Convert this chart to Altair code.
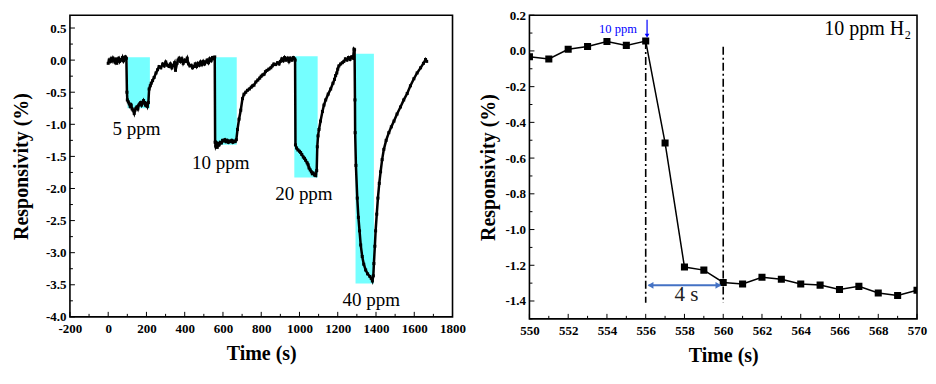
import altair as alt
import pandas as pd

# ---------------- Left panel: dynamic response ----------------
t_left = [0, 5, 10, 15, 20, 25, 30, 35, 40, 45, 50, 55, 60, 65, 70, 75, 80, 85, 90, 95,
          98, 100, 105, 110, 115, 120, 125, 130, 136, 140, 145, 150, 155, 160, 165, 170, 175, 180,
          185, 190, 195, 200, 205, 210, 214, 220, 225, 232, 240, 250, 258, 266, 275, 285, 293,
          301, 310, 318, 325, 333, 340, 347, 352, 360, 365, 371, 378, 385, 392, 400, 406, 413,
          420, 427, 434, 441, 448, 455, 462, 469, 476, 483, 490, 497, 504, 510, 517, 524, 531,
          538, 545, 552, 557,
          559, 562, 566, 570, 575, 580, 586, 592, 598, 604, 610, 616, 622, 628, 634, 640, 646,
          652, 658, 664, 670, 676, 684, 693, 702, 710, 719, 728, 738, 748, 755, 762, 772, 782,
          792, 800, 808, 815, 822, 830, 840, 850, 858, 866, 875, 885, 893, 900, 908, 915, 922,
          930, 938, 945, 952, 960, 968, 975,
          977, 979, 985, 992, 1000, 1006, 1012, 1020, 1026, 1032, 1040, 1045, 1050, 1056, 1062,
          1067, 1072, 1078, 1085, 1090, 1093, 1097, 1102, 1110, 1120, 1128, 1137, 1150, 1163,
          1175, 1183, 1189, 1195, 1200, 1206, 1215, 1224, 1232, 1240, 1248, 1256, 1264, 1272,
          1280, 1285,
          1288, 1290, 1291, 1295, 1302, 1308, 1314, 1320, 1328, 1336, 1346, 1356, 1368, 1375,
          1381, 1386, 1389, 1394, 1398, 1404, 1410, 1417, 1424, 1432, 1441, 1453, 1467, 1480,
          1494, 1510, 1528, 1545, 1563, 1580, 1598, 1615, 1633, 1648, 1659, 1665]
r_left = [-0.05, 0.00, -0.02, 0.02, -0.01, 0.03, 0.00, -0.03, 0.02, -0.05, 0.01, 0.03, -0.02,
          0.01, 0.00, 0.04, -0.01, 0.02, 0.05, 0.03,
          -0.50, -0.62, -0.65, -0.68, -0.72, -0.70, -0.76, -0.78, -0.83, -0.78, -0.75, -0.73,
          -0.76, -0.70, -0.68, -0.66, -0.70, -0.67, -0.63, -0.66, -0.70, -0.68, -0.72, -0.66,
          -0.45, -0.40, -0.36, -0.32, -0.27, -0.20, -0.15, -0.10, -0.12, -0.06, -0.09, -0.03,
          -0.08, -0.10, -0.06, -0.12, -0.08, -0.04, -0.16, -0.05, 0.00, 0.03, -0.02, 0.02,
          -0.05, 0.00, -0.02, 0.03, -0.06, -0.09, -0.08, -0.12, -0.10, -0.06, -0.10, -0.05,
          -0.08, -0.03, -0.07, -0.02, -0.06, -0.03, 0.00, -0.04, 0.02, -0.01, 0.04, 0.02, 0.05,
          -1.28, -1.34, -1.31, -1.36, -1.30, -1.32, -1.28, -1.29, -1.25, -1.26, -1.24, -1.27,
          -1.25, -1.28, -1.26, -1.27, -1.25, -1.28, -1.26, -1.27, -1.24, -1.08, -0.92, -0.78,
          -0.60, -0.53, -0.50, -0.47, -0.45, -0.42, -0.40, -0.39, -0.34, -0.31, -0.28, -0.25,
          -0.23, -0.22, -0.18, -0.16, -0.14, -0.12, -0.09, -0.06, -0.07, -0.04, -0.06, -0.02,
          0.02, -0.01, 0.04, 0.00, 0.03, -0.02, 0.03, 0.00, 0.04, 0.02,
          0.00, -1.32, -1.37, -1.40, -1.42, -1.44, -1.47, -1.51, -1.53, -1.56, -1.60, -1.63,
          -1.68, -1.71, -1.74, -1.77, -1.76, -1.79, -1.80, -1.72, -1.35, -1.18, -1.08, -0.95,
          -0.80, -0.70, -0.62, -0.53, -0.45, -0.36, -0.30, -0.24, -0.20, -0.14, -0.09, -0.06,
          -0.04, -0.02, 0.02, 0.00, 0.04, 0.01, 0.05, 0.03, 0.17,
          0.16, -0.62, -1.13, -1.64, -2.15, -2.45, -2.66, -2.88, -3.06, -3.18, -3.27, -3.33,
          -3.37, -3.40, -3.44, -3.36, -3.17, -2.90, -2.66, -2.40, -2.15, -1.92, -1.74, -1.55,
          -1.39, -1.25, -1.13, -1.04, -0.95, -0.84, -0.73, -0.62, -0.52, -0.40, -0.29, -0.20,
          -0.12, -0.05, 0.01, -0.02]

win_start = [101, 559, 973, 1293]
win_end = [218, 672, 1095, 1389]
win_top = [0.046, 0.046, 0.06, 0.10]
win_bottom = [-0.75, -1.32, -1.83, -3.48]

conc_text = ["5 ppm", "10 ppm", "20 ppm", "40 ppm"]
conc_t = [148, 588, 1023, 1375]
conc_r = [-1.08, -1.60, -2.09, -3.73]

left_x_major = list(range(-200, 1801, 200))
left_x_minor = list(range(-100, 1800, 200))
left_y_major = [-4.0, -3.5, -3.0, -2.5, -2.0, -1.5, -1.0, -0.5, 0.0, 0.5]
left_y_minor = [-3.75, -3.25, -2.75, -2.25, -1.75, -1.25, -0.75, -0.25, 0.25]

# ---------------- Right panel: response time ----------------
t_right = [550, 551, 552, 553, 554, 555, 556, 557, 558, 559, 560,
           561, 562, 563, 564, 565, 566, 567, 568, 569, 570]
r_right = [-0.033, -0.045, 0.009, 0.025, 0.053, 0.031, 0.055, -0.515, -1.21, -1.227, -1.296,
           -1.305, -1.267, -1.278, -1.305, -1.311, -1.336, -1.318, -1.355, -1.369, -1.34]

right_x_major = list(range(550, 571, 2))
right_x_minor = list(range(551, 570, 2))
right_y_major = [-1.4, -1.2, -1.0, -0.8, -0.6, -0.4, -0.2, 0.0, 0.2]
right_y_minor = [-1.5, -1.3, -1.1, -0.9, -0.7, -0.5, -0.3, -0.1, 0.1]

vline_t = [556, 560]
vline_top = [0.055, 0.023]
vline_bottom = [-1.41, -1.41]

FONT = "Liberation Serif"
LW, LH = 383, 302
RW, RH = 388, 304

lx = alt.Scale(domain=[-200, 1800], nice=False, zero=False)
ly = alt.Scale(domain=[-4.0, 0.7], nice=False, zero=False)
rx = alt.Scale(domain=[550, 570], nice=False, zero=False)
ry = alt.Scale(domain=[-1.5, 0.2], nice=False, zero=False)


def axis_x(title, values, fmt):
    return alt.Axis(title=title, values=values, tickSize=0, domain=False, grid=False,
                    labelOverlap=False, labelFlush=False,
                    labelFont=FONT, labelFontWeight="bold", labelFontSize=13, labelColor="black",
                    labelPadding=6, labelExpr="replace(format(datum.value, '%s'), '\u2212', '-')" % fmt,
                    titleFont=FONT, titleFontWeight="bold", titleFontSize=20, titleColor="black",
                    titlePadding=8)


def axis_y(title, values, pad):
    return alt.Axis(title=title, values=values, tickSize=0, domain=False, grid=False,
                    labelOverlap=False, labelFlush=False,
                    labelFont=FONT, labelFontWeight="bold", labelFontSize=13, labelColor="black",
                    labelPadding=4, labelExpr="replace(format(datum.value, '.1f'), '\u2212', '-')",
                    titleFont=FONT, titleFontWeight="bold", titleFontSize=20, titleColor="black",
                    titlePadding=pad)


LAX = axis_x("Time (s)", left_x_major, "d")
LAY = axis_y("Responsivity (%)", left_y_major, 14)
RAX = axis_x("Time (s)", right_x_major, "d")
RAY = axis_y("Responsivity (%)", right_y_major, 6)


def tick_layers(xs, ys, ax, ay, xmaj, xmin, ymaj, ymin, H):
    layers = []
    for vals, ln in ((xmaj, 5), (xmin, 3)):
        d = pd.DataFrame({"v": vals})
        layers.append(alt.Chart(d).mark_rule(color="black", strokeWidth=1).encode(
            x=alt.X("v:Q", scale=xs, axis=ax), y=alt.value(H), y2=alt.value(H - ln)))
    for vals, ln in ((ymaj, 5), (ymin, 3)):
        d = pd.DataFrame({"w": vals})
        layers.append(alt.Chart(d).mark_rule(color="black", strokeWidth=1).encode(
            y=alt.Y("w:Q", scale=ys, axis=ay), x=alt.value(0), x2=alt.value(ln)))
    return layers


# ----- left chart -----
curve_l = pd.DataFrame({"t": t_left, "r": r_left})
wins = pd.DataFrame({"s": win_start, "e": win_end, "top": win_top, "bot": win_bottom})
labs = pd.DataFrame({"t": conc_t, "r": conc_r, "txt": conc_text})

rects = alt.Chart(wins).mark_rect(color="#75ffff", opacity=1).encode(
    x=alt.X("s:Q", scale=lx, axis=LAX), x2="e:Q",
    y=alt.Y("top:Q", scale=ly, axis=LAY), y2="bot:Q")
line_l = alt.Chart(curve_l).mark_line(color="black", strokeWidth=2.5).encode(
    x=alt.X("t:Q", scale=lx, axis=LAX), y=alt.Y("r:Q", scale=ly, axis=LAY))
pts_l = alt.Chart(curve_l).mark_point(shape="square", filled=True, color="black", size=9, opacity=1).encode(
    x=alt.X("t:Q", scale=lx, axis=LAX), y=alt.Y("r:Q", scale=ly, axis=LAY))
text_l = alt.Chart(labs).mark_text(font=FONT, fontSize=19, color="black", baseline="middle").encode(
    x=alt.X("t:Q", scale=lx, axis=LAX), y=alt.Y("r:Q", scale=ly, axis=LAY), text="txt:N")

left = alt.layer(rects, line_l, pts_l, text_l,
                 *tick_layers(lx, ly, LAX, LAY, left_x_major, left_x_minor, left_y_major, left_y_minor, LH)
                 ).properties(width=LW, height=LH)

# ----- right chart -----
curve_r = pd.DataFrame({"t": t_right, "r": r_right})
vl = pd.DataFrame({"t": vline_t, "top": vline_top, "bot": vline_bottom})

vlines = alt.Chart(vl).mark_rule(color="black", strokeWidth=1.6, strokeDash=[8, 3, 2, 3]).encode(
    x=alt.X("t:Q", scale=rx, axis=RAX), y=alt.Y("top:Q", scale=ry, axis=RAY), y2="bot:Q")
line_r = alt.Chart(curve_r).mark_line(color="black", strokeWidth=1.5, clip=True).encode(
    x=alt.X("t:Q", scale=rx, axis=RAX), y=alt.Y("r:Q", scale=ry, axis=RAY))
pts_r = alt.Chart(curve_r).mark_point(shape="square", filled=True, color="black", size=50,
                                       opacity=1, clip=True).encode(
    x=alt.X("t:Q", scale=rx, axis=RAX), y=alt.Y("r:Q", scale=ry, axis=RAY))

arr = pd.DataFrame({"a": [556.15], "b": [559.85], "y": [-1.312]})
arrow_line = alt.Chart(arr).mark_rule(color="#4472c4", strokeWidth=2).encode(
    x=alt.X("a:Q", scale=rx, axis=RAX), x2="b:Q", y=alt.Y("y:Q", scale=ry, axis=RAY))
heads = pd.DataFrame({"x": [556.25, 559.75], "y": [-1.312, -1.312], "s": ["triangle-left", "triangle-right"]})
arrow_heads = alt.Chart(heads).mark_point(filled=True, color="#4472c4", size=45, opacity=1).encode(
    x=alt.X("x:Q", scale=rx, axis=RAX), y=alt.Y("y:Q", scale=ry, axis=RAY),
    shape=alt.Shape("s:N", scale=None, legend=None))

down = pd.DataFrame({"x": [556.07], "y": [0.175], "y2": [0.085]})
down_line = alt.Chart(down).mark_rule(color="#0000ff", strokeWidth=1.2).encode(
    x=alt.X("x:Q", scale=rx, axis=RAX), y=alt.Y("y:Q", scale=ry, axis=RAY), y2="y2:Q")
down_head = alt.Chart(down).mark_point(shape="triangle-down", filled=True, color="#0000ff",
                                       size=22, opacity=1).encode(
    x=alt.X("x:Q", scale=rx, axis=RAX), y=alt.Y("y2:Q", scale=ry, axis=RAY))

notes = pd.DataFrame({"x": [554.57], "y": [0.124], "txt": ["10 ppm"]})
note_blue = alt.Chart(notes).mark_text(font=FONT, fontSize=12.5, color="#0000ff", baseline="middle").encode(
    x=alt.X("x:Q", scale=rx, axis=RAX), y=alt.Y("y:Q", scale=ry, axis=RAY), text="txt:N")

four = pd.DataFrame({"x": [558.1], "y": [-1.365], "txt": ["4 s"]})
four_text = alt.Chart(four).mark_text(font=FONT, fontSize=21, color="#222222", baseline="middle").encode(
    x=alt.X("x:Q", scale=rx, axis=RAX), y=alt.Y("y:Q", scale=ry, axis=RAY), text="txt:N")

gas = pd.DataFrame({"x": [569.7], "y": [0.12], "txt": ["10 ppm H\u2082"]})
gas_text = alt.Chart(gas).mark_text(font=FONT, fontSize=20, color="black", baseline="middle",
                                    align="right").encode(
    x=alt.X("x:Q", scale=rx, axis=RAX), y=alt.Y("y:Q", scale=ry, axis=RAY), text="txt:N")

right = alt.layer(vlines, line_r, pts_r, arrow_line, arrow_heads, down_line, down_head,
                  note_blue, four_text, gas_text,
                  *tick_layers(rx, ry, RAX, RAY, right_x_major, right_x_minor, right_y_major, right_y_minor, RH)
                  ).properties(width=RW, height=RH)

chart = alt.hconcat(left, right, spacing=77, bounds="flush").properties(
    padding={"left": 2, "top": 0, "right": 0, "bottom": 5},
    background="white"
).configure_view(stroke="black", strokeWidth=1.6)

chart.save("out.html", embed_options={"renderer": "svg", "actions": False})
